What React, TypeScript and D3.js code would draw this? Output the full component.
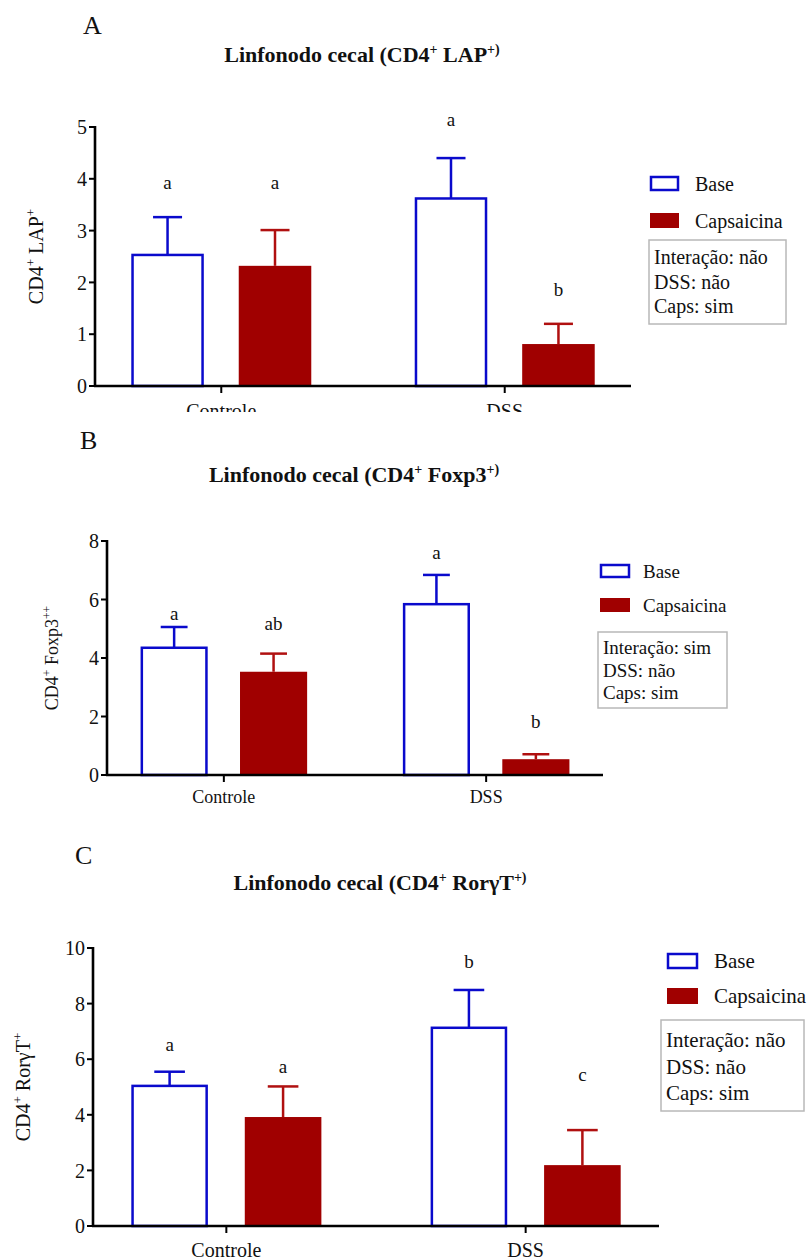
import React from "react";
import * as d3 from "d3";

// Groups and series shared by the three panels
const categories = ["Controle", "DSS"];
const series = ["Base", "Capsaicina"];

// Panel A – CD4+ LAP+ (mean and SEM, per category)
const lapBase = [2.53, 3.62];
const lapBaseErr = [0.73, 0.78];
const lapCaps = [2.32, 0.81];
const lapCapsErr = [0.69, 0.39];
const lapLetters = [["a", "a"], ["a", "b"]];
const lapLetterAt = [[3.81, 3.81], [5.01, 1.74]];
const lapStats = ["Interação: não", "DSS: não", "Caps: sim"];
const lapTicks = [0, 1, 2, 3, 4, 5];

// Panel B – CD4+ Foxp3+
const foxBase = [4.35, 5.84];
const foxBaseErr = [0.71, 1.0];
const foxCaps = [3.53, 0.54];
const foxCapsErr = [0.62, 0.17];
const foxLetters = [["a", "ab"], ["a", "b"]];
const foxLetterAt = [[5.31, 4.95], [7.39, 1.59]];
const foxStats = ["Interação: sim", "DSS: não", "Caps: sim"];
const foxTicks = [0, 2, 4, 6, 8];

// Panel C – CD4+ RorγT+
const rorBase = [5.04, 7.13];
const rorBaseErr = [0.51, 1.36];
const rorCaps = [3.92, 2.19];
const rorCapsErr = [1.1, 1.26];
const rorLetters = [["a", "a"], ["b", "c"]];
const rorLetterAt = [[6.28, 5.52], [9.28, 5.2]];
const rorStats = ["Interação: não", "DSS: não", "Caps: sim"];
const rorTicks = [0, 2, 4, 6, 8, 10];

const FONT = "'Liberation Serif', 'Times New Roman', Times, serif";
const BLUE = "#0a0acc";
const RED = "#a00000";
const RED_ERR = "#b01010";

type Layout = {
  id: string;
  tag: string;
  tagX: number;
  tagY: number;
  titleMain: string;
  titleMid: string;
  titleX: number;
  titleY: number;
  yLabel: string[];
  yLabelX: number;
  left: number;
  right: number;
  top: number;
  bottom: number;
  yMax: number;
  fs: number;
  tickFs: number;
  xLabelY: number;
  legX: number;
  legBaseY: number;
  legCapsY: number;
  legW: number;
  legH: number;
  legTextX: number;
  legFs: number;
  statX: number;
  statY: number;
  statW: number;
  statH: number;
  statLine0: number;
  statStep: number;
  clipBottom?: number;
};

type PanelProps = {
  cfg: Layout;
  ticks: number[];
  base: number[];
  baseErr: number[];
  caps: number[];
  capsErr: number[];
  letters: string[][];
  letterAt: number[][];
  stats: string[];
};

function Panel({ cfg, ticks, base, baseErr, caps, capsErr, letters, letterAt, stats }: PanelProps) {
  const x0 = d3
    .scaleBand<string>()
    .domain(categories)
    .range([cfg.left, cfg.right])
    .paddingInner(0.365)
    .paddingOuter(0.128);
  const x1 = d3
    .scaleBand<string>()
    .domain(series)
    .range([0, x0.bandwidth()])
    .paddingInner(0.325);
  const y = d3.scaleLinear().domain([0, cfg.yMax]).range([cfg.bottom, cfg.top]);

  const bw = x1.bandwidth();
  const capHalf = bw * 0.2;

  const groups = categories.map((c, i) => ({
    cat: c,
    bars: [
      { s: series[0], v: base[i], e: baseErr[i], letter: letters[i][0], at: letterAt[i][0] },
      { s: series[1], v: caps[i], e: capsErr[i], letter: letters[i][1], at: letterAt[i][1] },
    ],
  }));

  const clipId = `clip-${cfg.id}`;

  return (
    <g clipPath={cfg.clipBottom ? `url(#${clipId})` : undefined} fontFamily={FONT} fill="#111">
      {cfg.clipBottom ? (
        <defs>
          <clipPath id={clipId}>
            <rect x={0} y={0} width={811} height={cfg.clipBottom} />
          </clipPath>
        </defs>
      ) : null}

      {/* panel tag */}
      <text x={cfg.tagX} y={cfg.tagY} fontSize={26}>
        {cfg.tag}
      </text>

      {/* title */}
      <text x={cfg.titleX} y={cfg.titleY} fontSize={22} fontWeight="bold" textAnchor="middle">
        {cfg.titleMain}
        <tspan fontSize={14} dy={-8}>
          +
        </tspan>
        <tspan dy={8}>{cfg.titleMid}</tspan>
        <tspan fontSize={14} dy={-8}>
          +)
        </tspan>
      </text>

      {/* y-axis title */}
      <text
        transform={`translate(${cfg.yLabelX},${(cfg.top + cfg.bottom) / 2}) rotate(-90)`}
        textAnchor="middle"
        fontSize={cfg.fs}
      >
        {cfg.yLabel[0]}
        <tspan fontSize={cfg.fs * 0.65} dy={-cfg.fs * 0.4}>
          +
        </tspan>
        <tspan dy={cfg.fs * 0.4}>{cfg.yLabel[1]}</tspan>
        <tspan fontSize={cfg.fs * 0.65} dy={-cfg.fs * 0.4}>
          {cfg.yLabel[2]}
        </tspan>
      </text>

      {/* bars, error bars, significance letters */}
      {groups.map((g) =>
        g.bars.map((b) => {
          const bx = (x0(g.cat) as number) + (x1(b.s) as number);
          const cx = bx + bw / 2;
          const isBase = b.s === series[0];
          const col = isBase ? BLUE : RED_ERR;
          const yTop = y(b.v);
          const yErr = y(b.v + b.e);
          return (
            <g key={g.cat + b.s}>
              <line x1={cx} x2={cx} y1={yTop} y2={yErr} stroke={col} strokeWidth={2.5} />
              <line x1={cx - capHalf} x2={cx + capHalf} y1={yErr} y2={yErr} stroke={col} strokeWidth={2.5} />
              {isBase ? (
                <rect
                  x={bx + 1.25}
                  y={yTop}
                  width={bw - 2.5}
                  height={cfg.bottom - yTop}
                  fill="#fff"
                  stroke={BLUE}
                  strokeWidth={2.5}
                />
              ) : (
                <rect x={bx} y={yTop} width={bw} height={cfg.bottom - yTop} fill={RED} />
              )}
              <text x={cx} y={y(b.at)} textAnchor="middle" fontSize={19}>
                {b.letter}
              </text>
            </g>
          );
        })
      )}

      {/* y axis */}
      <line x1={cfg.left} x2={cfg.left} y1={cfg.top - 1} y2={cfg.bottom} stroke="#000" strokeWidth={2.6} />
      {ticks.map((t) => (
        <g key={t}>
          <line x1={cfg.left - 6} x2={cfg.left} y1={y(t)} y2={y(t)} stroke="#000" strokeWidth={2} />
          <text x={cfg.left - 8} y={y(t)} dy="0.36em" textAnchor="end" fontSize={cfg.tickFs}>
            {t}
          </text>
        </g>
      ))}

      {/* x axis */}
      <line x1={cfg.left - 1} x2={cfg.right} y1={cfg.bottom} y2={cfg.bottom} stroke="#000" strokeWidth={2.6} />
      {categories.map((c) => {
        const cx = (x0(c) as number) + x0.bandwidth() / 2;
        return (
          <g key={c}>
            <line x1={cx} x2={cx} y1={cfg.bottom} y2={cfg.bottom + 7} stroke="#000" strokeWidth={2} />
            <text x={cx} y={cfg.xLabelY} textAnchor="middle" fontSize={cfg.fs}>
              {c}
            </text>
          </g>
        );
      })}

      {/* legend */}
      <rect
        x={cfg.legX + 1}
        y={cfg.legBaseY + 1}
        width={cfg.legW - 2}
        height={cfg.legH - 2}
        fill="#fff"
        stroke={BLUE}
        strokeWidth={2.5}
      />
      <text x={cfg.legTextX} y={cfg.legBaseY + cfg.legH / 2} dy="0.35em" fontSize={cfg.legFs}>
        {series[0]}
      </text>
      <rect x={cfg.legX} y={cfg.legCapsY} width={cfg.legW} height={cfg.legH} fill={RED} />
      <text x={cfg.legTextX} y={cfg.legCapsY + cfg.legH / 2} dy="0.35em" fontSize={cfg.legFs}>
        {series[1]}
      </text>

      {/* two-way ANOVA summary */}
      <rect
        x={cfg.statX}
        y={cfg.statY}
        width={cfg.statW}
        height={cfg.statH}
        fill="#fff"
        stroke="#b8b8b8"
        strokeWidth={1.5}
      />
      {stats.map((s, i) => (
        <text key={s} x={cfg.statX + 5} y={cfg.statLine0 + i * cfg.statStep} fontSize={cfg.legFs}>
          {s}
        </text>
      ))}
    </g>
  );
}

const layoutA: Layout = {
  id: "a",
  tag: "A",
  tagX: 83,
  tagY: 34,
  titleMain: "Linfonodo cecal (CD4",
  titleMid: " LAP",
  titleX: 362,
  titleY: 62,
  yLabel: ["CD4", " LAP", "+"],
  yLabelX: 43,
  left: 95,
  right: 631,
  top: 127,
  bottom: 386,
  yMax: 5,
  fs: 20,
  tickFs: 20,
  xLabelY: 418,
  legX: 650,
  legBaseY: 176,
  legCapsY: 213,
  legW: 29,
  legH: 15,
  legTextX: 695,
  legFs: 20,
  statX: 649,
  statY: 240,
  statW: 137,
  statH: 84,
  statLine0: 264,
  statStep: 24.5,
  clipBottom: 412,
};

const layoutB: Layout = {
  id: "b",
  tag: "B",
  tagX: 80,
  tagY: 449,
  titleMain: "Linfonodo cecal (CD4",
  titleMid: " Foxp3",
  titleX: 354,
  titleY: 482,
  yLabel: ["CD4", " Foxp3", "++"],
  yLabelX: 58,
  left: 107,
  right: 603,
  top: 541,
  bottom: 775,
  yMax: 8,
  fs: 18,
  tickFs: 20,
  xLabelY: 803,
  legX: 600,
  legBaseY: 564,
  legCapsY: 598,
  legW: 30,
  legH: 14,
  legTextX: 643,
  legFs: 19,
  statX: 598,
  statY: 632,
  statW: 129,
  statH: 76,
  statLine0: 654,
  statStep: 22.5,
};

const layoutC: Layout = {
  id: "c",
  tag: "C",
  tagX: 75,
  tagY: 864,
  titleMain: "Linfonodo cecal (CD4",
  titleMid: " RorγT",
  titleX: 380,
  titleY: 890,
  yLabel: ["CD4", " RorγT", "+"],
  yLabelX: 30,
  left: 93,
  right: 659,
  top: 948,
  bottom: 1226,
  yMax: 10,
  fs: 20,
  tickFs: 20,
  xLabelY: 1257,
  legX: 667,
  legBaseY: 953,
  legCapsY: 988,
  legW: 31,
  legH: 16,
  legTextX: 714,
  legFs: 21,
  statX: 661,
  statY: 1020,
  statW: 143,
  statH: 91,
  statLine0: 1047,
  statStep: 26.5,
};

export default function App() {
  return (
    <svg
      width={811}
      height={1260}
      viewBox="0 0 811 1260"
      style={{ position: "absolute", left: 0, top: 0, background: "#fff" }}
    >
      <rect width={811} height={1260} fill="#fff" />
      <Panel
        cfg={layoutA}
        ticks={lapTicks}
        base={lapBase}
        baseErr={lapBaseErr}
        caps={lapCaps}
        capsErr={lapCapsErr}
        letters={lapLetters}
        letterAt={lapLetterAt}
        stats={lapStats}
      />
      <Panel
        cfg={layoutB}
        ticks={foxTicks}
        base={foxBase}
        baseErr={foxBaseErr}
        caps={foxCaps}
        capsErr={foxCapsErr}
        letters={foxLetters}
        letterAt={foxLetterAt}
        stats={foxStats}
      />
      <Panel
        cfg={layoutC}
        ticks={rorTicks}
        base={rorBase}
        baseErr={rorBaseErr}
        caps={rorCaps}
        capsErr={rorCapsErr}
        letters={rorLetters}
        letterAt={rorLetterAt}
        stats={rorStats}
      />
    </svg>
  );
}
